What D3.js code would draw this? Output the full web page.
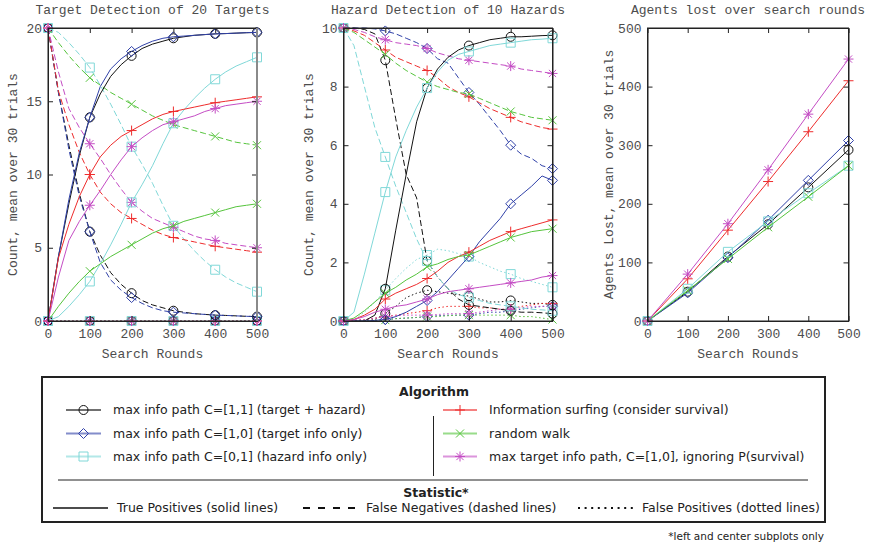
<!DOCTYPE html>
<html>
<head>
<meta charset="utf-8">
<script src="https://cdn.jsdelivr.net/npm/d3@7"></script>
<style>
  body { margin: 0; background: #fff; }
  svg { display: block; }
  .axis text, .axis-title, .panel-title {
    font-family: "Liberation Mono", "DejaVu Sans Mono", monospace;
    font-size: 13px;
    fill: #4d4d4d;
  }
  .axis line, .axis path { stroke: #222; }
  .legend text { font-family: "DejaVu Sans", sans-serif; font-size: 12.5px; fill: #222; }
</style>
</head>
<body>
<svg id="chart"></svg>
<script>
// Set svg size.
const width = 869;
const height = 544;

const svg = d3.select("#chart")
  .attr("width", width)
  .attr("height", height);

// Search rounds sampled along the curves, and the rounds that carry markers.
const rounds = [0, 25, 50, 75, 100, 125, 150, 175, 200, 225, 250, 275, 300, 325, 350, 375, 400, 425, 450, 475, 500];
const markerRounds = [0, 100, 200, 300, 400, 500];

// Algorithms, in legend order.
const algorithms = [
  "max info path C=[1,1] (target + hazard)",
  "max info path C=[1,0] (target info only)",
  "max info path C=[0,1] (hazard info only)",
  "Information surfing (consider survival)",
  "random walk",
  "max target info path, C=[1,0], ignoring P(survival)"
];
const colors = ["#111111", "#3041a8", "#80d8d8", "#ee2c2c", "#55c43c", "#c44cc4"];
const markers = ["circle", "diamond", "square", "plus", "x", "star"];

const statistics = ["True Positives (solid lines)", "False Negatives (dashed lines)", "False Positives (dotted lines)"];

// Target detection of 20 targets (one row per algorithm).
const targetTP = [
  [0, 4.4, 8.0, 11.3, 13.9, 15.5, 16.7, 17.5, 18.1, 18.6, 18.9, 19.1, 19.3, 19.4, 19.5, 19.55, 19.6, 19.62, 19.65, 19.68, 19.7],
  [0, 4.4, 8.3, 11.5, 13.9, 16.0, 17.2, 17.9, 18.4, 18.8, 19.1, 19.3, 19.4, 19.45, 19.5, 19.55, 19.6, 19.62, 19.65, 19.68, 19.7],
  [0, 0.3, 1.0, 1.8, 2.7, 3.9, 5.2, 6.6, 8.1, 9.3, 10.6, 12.1, 13.5, 14.4, 15.2, 15.9, 16.5, 17.0, 17.4, 17.7, 18.0],
  [0, 4.3, 6.6, 8.5, 10.0, 11.2, 12.0, 12.6, 13.0, 13.4, 13.8, 14.1, 14.3, 14.45, 14.6, 14.75, 14.9, 15.0, 15.1, 15.2, 15.3],
  [0, 1.0, 1.9, 2.7, 3.4, 3.9, 4.4, 4.8, 5.2, 5.6, 6.0, 6.3, 6.5, 6.8, 7.0, 7.2, 7.4, 7.6, 7.8, 7.9, 8.0],
  [0, 3.0, 5.5, 6.8, 7.9, 8.9, 10.0, 11.0, 11.9, 12.5, 13.0, 13.4, 13.6, 13.8, 14.0, 14.3, 14.5, 14.7, 14.8, 14.9, 15.0]
];
const targetFN = [
  [20, 15.6, 12.0, 8.7, 6.1, 4.5, 3.3, 2.5, 1.9, 1.4, 1.1, 0.9, 0.7, 0.6, 0.5, 0.45, 0.4, 0.38, 0.35, 0.32, 0.3],
  [20, 15.6, 11.7, 8.5, 6.1, 4.0, 2.8, 2.1, 1.6, 1.2, 0.9, 0.7, 0.6, 0.55, 0.5, 0.45, 0.4, 0.38, 0.35, 0.32, 0.3],
  [20, 19.7, 19.0, 18.2, 17.3, 16.1, 14.8, 13.4, 11.9, 10.7, 9.4, 7.9, 6.5, 5.6, 4.8, 4.1, 3.5, 3.0, 2.6, 2.3, 2.0],
  [20, 15.7, 13.4, 11.5, 10.0, 8.8, 8.0, 7.4, 7.0, 6.6, 6.2, 5.9, 5.7, 5.55, 5.4, 5.25, 5.1, 5.0, 4.9, 4.8, 4.7],
  [20, 19.0, 18.1, 17.3, 16.6, 16.1, 15.6, 15.2, 14.8, 14.4, 14.0, 13.7, 13.4, 13.2, 13.0, 12.8, 12.6, 12.4, 12.2, 12.1, 12.0],
  [20, 17.0, 14.5, 13.2, 12.1, 11.1, 10.0, 9.0, 8.1, 7.5, 7.0, 6.7, 6.4, 6.1, 5.8, 5.6, 5.5, 5.3, 5.2, 5.1, 5.0]
];
const targetFP = [
  [0, 0, 0, 0, 0, 0, 0, 0, 0, 0, 0, 0, 0, 0, 0, 0, 0, 0, 0, 0, 0],
  [0, 0, 0, 0, 0, 0, 0, 0, 0, 0, 0, 0, 0, 0, 0, 0, 0, 0, 0, 0, 0],
  [0, 0, 0, 0, 0, 0, 0, 0, 0, 0, 0, 0, 0, 0, 0, 0, 0, 0, 0, 0, 0],
  [0, 0, 0, 0, 0, 0, 0, 0, 0, 0, 0, 0, 0, 0, 0, 0, 0, 0, 0, 0, 0],
  [0, 0, 0, 0, 0, 0, 0, 0, 0, 0, 0, 0, 0, 0, 0, 0, 0, 0, 0, 0, 0],
  [0, 0, 0, 0, 0, 0, 0, 0, 0, 0, 0, 0, 0, 0, 0, 0, 0, 0, 0, 0, 0]
];

// Hazard detection of 10 hazards.
const hazardTP = [
  [0, 0, 0, 0.2, 1.1, 3.1, 5.0, 6.8, 7.95, 8.6, 9.0, 9.25, 9.4, 9.5, 9.6, 9.65, 9.7, 9.7, 9.72, 9.74, 9.75],
  [0, 0, 0, 0.02, 0.05, 0.15, 0.3, 0.5, 0.7, 1.0, 1.4, 1.8, 2.2, 2.7, 3.1, 3.5, 4.0, 4.3, 4.6, 4.95, 4.8],
  [0, 0.3, 1.6, 3.0, 4.4, 5.6, 6.5, 7.3, 7.95, 8.5, 8.9, 9.1, 9.2, 9.3, 9.4, 9.45, 9.5, 9.55, 9.6, 9.62, 9.65],
  [0, 0.05, 0.2, 0.4, 0.75, 0.95, 1.1, 1.25, 1.45, 1.7, 2.0, 2.2, 2.35, 2.55, 2.75, 2.9, 3.05, 3.15, 3.25, 3.35, 3.45],
  [0, 0.1, 0.35, 0.65, 0.95, 1.15, 1.4, 1.6, 1.85, 1.95, 2.1, 2.2, 2.25, 2.4, 2.55, 2.7, 2.85, 2.95, 3.05, 3.1, 3.15],
  [0, 0.05, 0.15, 0.3, 0.4, 0.5, 0.55, 0.65, 0.75, 0.9, 1.0, 1.05, 1.1, 1.15, 1.2, 1.25, 1.3, 1.35, 1.4, 1.5, 1.55]
];
const hazardFN = [
  [10, 10, 9.95, 9.8, 8.9, 6.9, 5.0, 4.2, 2.05, 1.5, 1.1, 0.75, 0.55, 0.5, 0.45, 0.4, 0.35, 0.3, 0.3, 0.28, 0.25],
  [10, 10, 10, 9.97, 9.9, 9.8, 9.65, 9.5, 9.3, 8.95, 8.8, 8.3, 7.8, 7.4, 6.95, 6.5, 6.0, 5.7, 5.55, 5.3, 5.2],
  [10, 9.4, 8.0, 6.6, 5.6, 4.6, 3.7, 2.8, 2.05, 1.5, 1.1, 0.9, 0.8, 0.7, 0.6, 0.55, 0.5, 0.45, 0.4, 0.38, 0.35],
  [10, 9.9, 9.75, 9.5, 9.25, 9.0, 8.85, 8.7, 8.55, 8.3, 8.0, 7.8, 7.65, 7.45, 7.25, 7.1, 6.95, 6.8, 6.7, 6.6, 6.55],
  [10, 9.85, 9.6, 9.35, 9.1, 8.8, 8.55, 8.35, 8.15, 8.0, 7.9, 7.8, 7.75, 7.6, 7.45, 7.3, 7.15, 7.05, 6.95, 6.9, 6.85],
  [10, 9.95, 9.85, 9.7, 9.6, 9.5, 9.45, 9.4, 9.3, 9.15, 9.05, 8.95, 8.9, 8.85, 8.8, 8.75, 8.7, 8.6, 8.55, 8.5, 8.45]
];
const hazardFP = [
  [0, 0, 0, 0.05, 0.25, 0.5, 0.8, 0.95, 1.05, 1.0, 0.95, 0.9, 0.85, 0.75, 0.65, 0.65, 0.7, 0.65, 0.6, 0.6, 0.55],
  [0, 0, 0, 0.02, 0.05, 0.08, 0.1, 0.12, 0.15, 0.18, 0.2, 0.2, 0.2, 0.25, 0.3, 0.3, 0.35, 0.4, 0.45, 0.5, 0.5],
  [0, 0.05, 0.3, 0.65, 1.05, 1.45, 1.8, 2.1, 2.25, 2.45, 2.4, 2.3, 2.2, 2.0, 1.85, 1.7, 1.6, 1.45, 1.35, 1.25, 1.15],
  [0, 0.02, 0.05, 0.1, 0.15, 0.2, 0.25, 0.3, 0.35, 0.45, 0.5, 0.5, 0.5, 0.45, 0.45, 0.4, 0.4, 0.5, 0.55, 0.6, 0.6],
  [0, 0, 0.01, 0.02, 0.03, 0.08, 0.1, 0.12, 0.15, 0.15, 0.18, 0.2, 0.2, 0.2, 0.2, 0.2, 0.2, 0.15, 0.15, 0.1, 0.05],
  [0, 0.02, 0.05, 0.1, 0.15, 0.18, 0.2, 0.2, 0.2, 0.22, 0.25, 0.25, 0.25, 0.3, 0.35, 0.4, 0.4, 0.45, 0.5, 0.5, 0.5]
];

// Agents lost, only at the marker rounds.
const agentsLost = [
  [0, 50, 110, 165, 228, 292],
  [0, 48, 108, 172, 240, 308],
  [0, 55, 118, 170, 218, 265],
  [0, 72, 155, 238, 323, 410],
  [0, 52, 106, 160, 212, 265],
  [0, 80, 166, 258, 353, 447]
];

const dashes = [null, "6,3", "1.5,2.5"];

/*
 * Returns a translate string for the transform attribute.
 */
function translate(x, y) {
  return "translate(" + String(x) + "," + String(y) + ")";
}

/*
 * Path for one marker shape, centred on 0,0.
 */
function markerPath(kind) {
  switch (kind) {
    case "circle":
      return d3.symbol(d3.symbolCircle, 64)();
    case "diamond":
      return "M0,-5L5,0L0,5L-5,0Z";
    case "square":
      return "M-4.5,-4.5H4.5V4.5H-4.5Z";
    case "plus":
      return "M-5,0H5M0,-5V5";
    case "x":
      return "M-4,-4L4,4M-4,4L4,-4";
    default:
      return "M-5,0H5M0,-5V5M-3.6,-3.6L3.6,3.6M-3.6,3.6L3.6,-3.6";
  }
}

function drawMarker(g, kind, color, x, y) {
  g.append("path")
    .attr("transform", translate(x, y))
    .attr("d", markerPath(kind))
    .attr("fill", "none")
    .attr("stroke", color)
    .attr("stroke-width", 1);
}

/*
 * Draws one panel frame: box, inward ticks, tick labels and titles.
 */
function drawFrame(p, xScale, yScale) {
  let g = svg.append("g").attr("class", "axis");

  g.append("g")
    .attr("transform", translate(0, p.bottom))
    .call(d3.axisBottom(xScale).tickValues(markerRounds).tickSize(-5).tickSizeOuter(0).tickPadding(8));
  g.append("g")
    .attr("transform", translate(0, p.top))
    .call(d3.axisTop(xScale).tickValues(markerRounds).tickSize(-5).tickSizeOuter(0).tickFormat(""));
  g.append("g")
    .attr("transform", translate(p.left, 0))
    .call(d3.axisLeft(yScale).tickValues(p.yTicks).tickSize(-5).tickSizeOuter(0).tickPadding(6));
  g.append("g")
    .attr("transform", translate(p.right, 0))
    .call(d3.axisRight(yScale).tickValues(p.yTicks).tickSize(-5).tickSizeOuter(0).tickFormat(""));

  g.selectAll("g").attr("font-family", null).attr("font-size", null);

  svg.append("rect")
    .attr("x", p.left)
    .attr("y", p.top)
    .attr("width", p.right - p.left)
    .attr("height", p.bottom - p.top)
    .attr("fill", "none")
    .attr("stroke", "#222")
    .attr("stroke-width", 1);

  if (p.greyRight) {
    svg.append("line")
      .attr("x1", p.right).attr("x2", p.right)
      .attr("y1", p.top).attr("y2", p.bottom)
      .attr("stroke", "#8a8a8a")
      .attr("stroke-width", 2);
  }

  let mid = (p.left + p.right) / 2;

  svg.append("text")
    .attr("class", "panel-title")
    .attr("x", mid)
    .attr("y", 13.5)
    .attr("text-anchor", "middle")
    .text(p.title);

  svg.append("text")
    .attr("class", "axis-title")
    .attr("x", mid)
    .attr("y", 358)
    .attr("text-anchor", "middle")
    .text("Search Rounds");

  let yGroup = svg.append("g")
    .attr("transform", translate(p.labelX, (p.top + p.bottom) / 2));

  yGroup.append("text")
    .attr("class", "axis-title")
    .attr("dy", "0.35em")
    .attr("text-anchor", "middle")
    .attr("transform", "rotate(-90)")
    .text(p.yLabel);
}

/*
 * Draws a detection panel: TP solid, FN dashed, FP dotted.
 */
function drawDetection(p, series) {
  let xScale = d3.scaleLinear().domain([0, 500]).range([p.left, p.right]);
  let yScale = d3.scaleLinear().domain([0, p.yMax]).range([p.bottom, p.top]);

  let plot = svg.append("g").attr("class", "plot");

  let line = d3.line()
    .x((d, i) => xScale(rounds[i]))
    .y(d => yScale(d));

  // dotted first so that solid lines sit on top
  [2, 1, 0].forEach(s => {
    series[s].forEach((values, a) => {
      plot.append("path")
        .datum(values)
        .attr("d", line)
        .attr("fill", "none")
        .attr("stroke", colors[a])
        .attr("stroke-width", 1)
        .attr("stroke-dasharray", dashes[s]);

      markerRounds.forEach(r => {
        let v = values[rounds.indexOf(r)];
        drawMarker(plot, markers[a], colors[a], xScale(r), yScale(v));
      });
    });
  });

  drawFrame(p, xScale, yScale);
}

/*
 * Draws the agents lost panel.
 */
function drawAgents(p) {
  let xScale = d3.scaleLinear().domain([0, 500]).range([p.left, p.right]);
  let yScale = d3.scaleLinear().domain([0, p.yMax]).range([p.bottom, p.top]);

  let plot = svg.append("g").attr("class", "plot");

  let line = d3.line()
    .x((d, i) => xScale(markerRounds[i]))
    .y(d => yScale(d));

  agentsLost.forEach((values, a) => {
    plot.append("path")
      .datum(values)
      .attr("d", line)
      .attr("fill", "none")
      .attr("stroke", colors[a])
      .attr("stroke-width", 1);

    values.forEach((v, i) => {
      drawMarker(plot, markers[a], colors[a], xScale(markerRounds[i]), yScale(v));
    });
  });

  drawFrame(p, xScale, yScale);
}

/*
 * Legend box under the panels.
 */
function drawLegend() {
  let legend = svg.append("g").attr("class", "legend");

  legend.append("rect")
    .attr("x", 42)
    .attr("y", 377)
    .attr("width", 783)
    .attr("height", 145)
    .attr("fill", "#fff")
    .attr("stroke", "#222")
    .attr("stroke-width", 2);

  legend.append("text")
    .attr("x", 434)
    .attr("y", 396)
    .attr("text-anchor", "middle")
    .attr("font-weight", "bold")
    .text("Algorithm");

  let rowY = [410, 433.5, 456.5];
  let columns = [{ x0: 66, x1: 101, tx: 113 }, { x0: 443, x1: 477, tx: 489 }];

  algorithms.forEach((name, a) => {
    let c = columns[Math.floor(a / 3)];
    let y = rowY[a % 3];

    legend.append("line")
      .attr("x1", c.x0).attr("x2", c.x1)
      .attr("y1", y).attr("y2", y)
      .attr("stroke", colors[a])
      .attr("stroke-opacity", 0.6)
      .attr("stroke-width", 2);

    drawMarker(legend, markers[a], colors[a], (c.x0 + c.x1) / 2, y);

    legend.append("text")
      .attr("x", c.tx)
      .attr("y", y)
      .attr("dy", "0.35em")
      .text(name);
  });

  legend.append("line")
    .attr("x1", 433.5).attr("x2", 433.5)
    .attr("y1", 416).attr("y2", 476)
    .attr("stroke", "#222");

  legend.append("line")
    .attr("x1", 58).attr("x2", 808)
    .attr("y1", 480).attr("y2", 480)
    .attr("stroke", "#222");

  legend.append("text")
    .attr("x", 436)
    .attr("y", 496.5)
    .attr("text-anchor", "middle")
    .attr("font-weight", "bold")
    .text("Statistic*");

  let statCols = [{ x0: 53, x1: 108, tx: 117 }, { x0: 303, x1: 358, tx: 366 }, { x0: 578, x1: 633, tx: 642 }];
  let sy = 508;

  statistics.forEach((name, s) => {
    let c = statCols[s];
    legend.append("line")
      .attr("x1", c.x0).attr("x2", c.x1)
      .attr("y1", sy).attr("y2", sy)
      .attr("stroke", "#111")
      .attr("stroke-width", s == 0 ? 1.6 : 2.2)
      .attr("stroke-dasharray", s == 0 ? null : (s == 1 ? "7,8" : "2,4.6"));

    legend.append("text")
      .attr("x", c.tx)
      .attr("y", sy)
      .attr("dy", "0.35em")
      .text(name);
  });

  legend.append("text")
    .attr("x", 824)
    .attr("y", 536)
    .attr("dy", "0.35em")
    .attr("text-anchor", "end")
    .style("font-size", "10.5px")
    .text("*left and center subplots only");
}

drawDetection({
  left: 48, right: 257, top: 28, bottom: 321, yMax: 20,
  yTicks: [0, 5, 10, 15, 20], labelX: 12.5, greyRight: true,
  title: "Target Detection of 20 Targets",
  yLabel: "Count, mean over 30 trials"
}, [targetTP, targetFN, targetFP]);

drawDetection({
  left: 343.5, right: 552.5, top: 28, bottom: 321, yMax: 10,
  yTicks: [0, 2, 4, 6, 8, 10], labelX: 308,
  title: "Hazard Detection of 10 Hazards",
  yLabel: "Count, mean over 30 trials"
}, [hazardTP, hazardFN, hazardFP]);

drawAgents({
  left: 647.5, right: 848.5, top: 28, bottom: 321, yMax: 500,
  yTicks: [0, 100, 200, 300, 400, 500], labelX: 608,
  title: "Agents lost over search rounds",
  yLabel: "Agents Lost, mean over 30 trials"
});

drawLegend();
</script>
</body>
</html>
